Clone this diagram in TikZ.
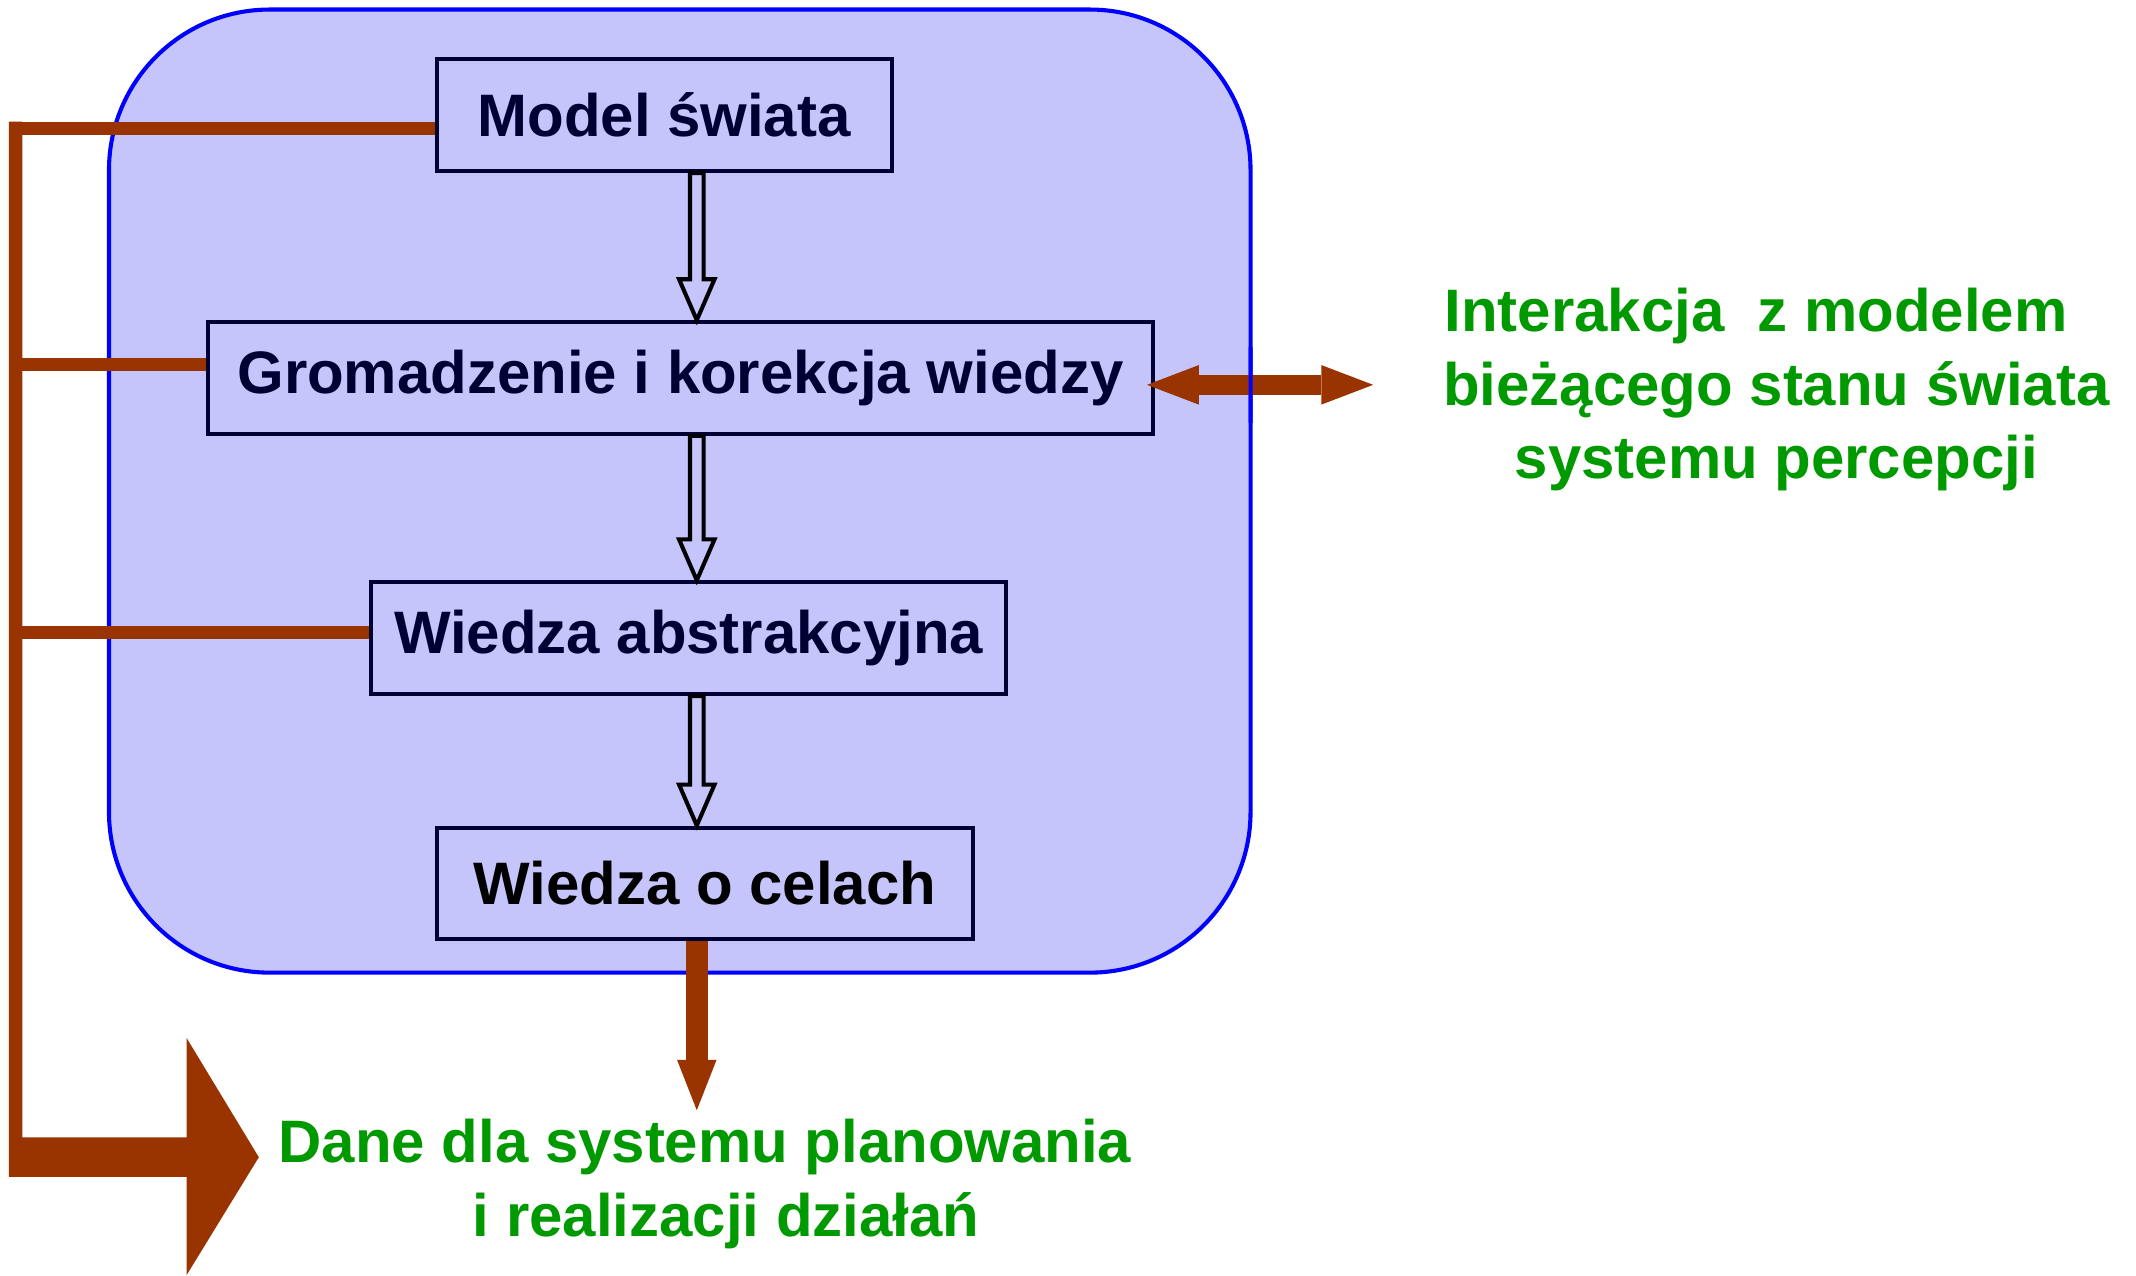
\documentclass[tikz,border=0pt]{standalone}
\usepackage{fontspec}
\setmainfont{Liberation Sans}
\usetikzlibrary{arrows.meta,calc}
\definecolor{lav}{RGB}{197,197,252}
\definecolor{navy}{RGB}{0,0,51}
\definecolor{rust}{RGB}{153,51,0}
\definecolor{grn}{RGB}{0,153,0}
\definecolor{frameblue}{RGB}{0,0,255}
\begin{document}
\begin{tikzpicture}[x=1pt,y=-1pt,
  box/.style={draw=navy, line width=3pt, fill=lav, inner sep=0pt, minimum height=82pt,
    text=navy, font=\fontsize{44}{53}\selectfont\bfseries},
  hollow/.style={draw=black, line width=3pt, fill=lav, line join=miter},
  branch/.style={draw=rust, line width=9.5pt},
  note/.style={text=grn, align=center, inner sep=0pt, font=\fontsize{44}{54}\selectfont\bfseries},
  frameline/.style={draw=frameblue, line width=3pt}
]
\useasboundingbox (0,0) rectangle (1568,936);
% frame
\path[fill=lav, rounded corners=118pt] (80,7) rectangle (918,714);
\draw[frameline, rounded corners=118pt] (80,7) rectangle (918,714);

% boxes
\node[box, minimum width=334pt] (model) at (487.5,84.5) {Model świata};
\node[box, minimum width=694pt] (grom) at (499.5,277.5) {Gromadzenie i korekcja wiedzy};
\node[box, minimum width=466pt] (abs) at (505.5,468.5) {Wiedza abstrakcyjna};
\node[box, minimum width=394pt, text=black] (cel) at (517.5,648.5) {Wiedza o celach};

% left trunk and big arrow
\coordinate (b1) at (6.5,94);
\coordinate (b2) at (6.5,267.5);
\coordinate (b3) at (6.5,464);
\draw[branch] (model.west |- b1) -- (b1);
\draw[branch] (grom.west |- b2) -- (b2);
\draw[branch] (abs.west |- b3) -- (b3);
\coordinate (bigtip) at (190,849.5);
\fill[rust] (6.5,89.25) -- (16.5,89.25) -- (16.5,835) -- (137,835) -- (137,762) -- (bigtip)
  -- (137,936) -- (137,864) -- (6.5,864) -- cycle;

% hollow arrows
\coordinate (ax) at (511.5,0);
\coordinate (a1s) at (ax |- model.south);
\coordinate (a1e) at (ax |- grom.north);
\coordinate (a2s) at (ax |- grom.south);
\coordinate (a2e) at (ax |- abs.north);
\coordinate (a3s) at (ax |- abs.south);
\coordinate (a3e) at (ax |- cel.north);
\foreach \s/\e in {a1s/a1e, a2s/a2e, a3s/a3e}{
  \draw[hollow] ($(\s)+(-5,0)$) -- ($(\e)+(-5,-30)$) -- ($(\e)+(-13,-30)$) -- (\e)
    -- ($(\e)+(13,-30)$) -- ($(\e)+(5,-30)$) -- ($(\s)+(5,0)$) -- cycle;
}

% brown down arrow
\coordinate (planin) at (511.5,815);
\draw[rust, line width=16pt, -{Triangle[width=29pt,length=37pt,line width=0pt]}] (ax |- cel.south) -- (planin);

% double arrow
\coordinate (dl) at ([xshift=-6pt,yshift=-5pt]grom.east);
\coordinate (dr) at (1008,282.5);
\draw[rust, line width=15pt, {Triangle[width=29pt,length=38pt,line width=0pt]}-{Triangle[width=29pt,length=38pt,line width=0pt]}] (dl) -- (dr);
\begin{scope}
  \clip (900,255) rectangle (940,310);
  \draw[frameline, rounded corners=118pt] (80,7) rectangle (918,714);
\end{scope}

% texts
\node[note] (interakcja) at (1304,286) {Interakcja\ \ z modelem\hspace*{30pt}\\bieżącego stanu świata\\systemu percepcji};
\node[note] (dane) at (517.5,869) {Dane dla systemu planowania\\\hspace*{31pt}i realizacji działań};
\end{tikzpicture}
\end{document}
